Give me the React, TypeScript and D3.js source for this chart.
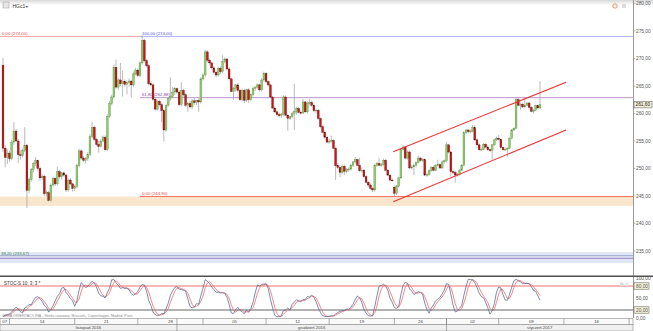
import React from "react";
import * as d3 from "d3";

// HGc1 – 4h bars, [open, high, low, close]
const ohlc: [number, number, number, number][] = [
  [268.8, 270.1, 253.0, 253.7], [253.7, 254.2, 250.2, 252.0], [252.0, 253.5, 250.8, 252.8], [252.8, 253.2, 251.2, 251.8],
  [251.8, 255.2, 251.5, 254.8], [254.8, 258.4, 254.3, 256.8], [256.8, 257.2, 254.8, 255.0], [255.0, 255.4, 251.0, 252.5],
  [252.5, 253.3, 251.6, 252.4], [252.4, 253.6, 252.0, 253.3], [253.3, 257.5, 253.0, 254.2], [254.2, 254.5, 242.8, 246.0],
  [246.0, 248.4, 245.5, 248.0], [248.0, 250.1, 247.6, 249.8], [249.8, 251.2, 249.3, 250.9], [250.9, 252.1, 250.4, 251.4],
  [251.4, 251.6, 249.6, 250.0], [250.0, 250.4, 247.8, 248.3], [248.3, 249.0, 247.9, 248.6], [248.6, 248.9, 245.0, 245.4],
  [245.4, 246.0, 244.9, 245.6], [245.6, 245.9, 244.0, 244.2], [244.2, 247.3, 244.0, 247.0], [247.0, 248.5, 246.7, 248.2],
  [248.2, 248.4, 246.8, 247.2], [247.2, 250.3, 246.9, 249.4], [249.4, 249.7, 248.2, 248.5], [248.5, 249.4, 248.0, 249.2],
  [249.2, 249.5, 248.5, 248.8], [248.8, 249.0, 245.7, 246.1], [246.1, 248.2, 245.8, 247.9], [247.9, 248.3, 246.9, 247.2],
  [247.2, 247.4, 245.8, 246.4], [246.4, 247.0, 245.9, 246.7], [246.7, 250.9, 246.4, 250.5], [250.5, 253.6, 250.2, 253.2],
  [253.2, 253.5, 251.6, 251.9], [251.9, 252.3, 251.2, 251.5], [251.5, 252.1, 250.9, 251.8], [251.8, 253.0, 251.4, 252.6],
  [252.6, 256.3, 252.3, 255.8], [255.8, 258.5, 255.5, 257.5], [257.5, 257.8, 255.0, 255.3], [255.3, 255.6, 254.1, 254.4],
  [254.4, 255.0, 252.9, 254.0], [254.0, 255.3, 253.8, 255.0], [255.0, 256.0, 254.8, 255.7], [255.7, 256.0, 253.1, 253.4],
  [253.4, 259.9, 253.2, 259.5], [259.5, 262.3, 259.2, 261.8], [261.8, 263.4, 261.5, 263.0], [263.0, 268.9, 262.7, 268.4],
  [268.4, 269.8, 264.5, 264.8], [264.8, 266.5, 264.3, 266.1], [266.1, 269.2, 265.0, 265.4], [265.4, 267.8, 263.1, 265.8],
  [265.8, 266.2, 264.9, 265.3], [265.3, 266.0, 263.5, 265.6], [265.6, 266.4, 264.9, 265.9], [265.9, 266.0, 262.9, 265.2],
  [265.2, 267.6, 264.8, 267.2], [267.2, 268.3, 266.9, 267.9], [267.9, 268.2, 266.6, 266.9], [266.9, 269.5, 266.6, 269.2],
  [269.2, 274.2, 268.9, 273.3], [273.3, 273.6, 269.3, 269.6], [269.6, 269.9, 268.4, 268.7], [268.7, 269.0, 265.1, 265.4],
  [265.4, 265.8, 264.9, 265.2], [265.2, 265.5, 262.3, 262.6], [262.6, 262.9, 260.5, 260.8], [260.8, 262.4, 260.5, 262.2],
  [262.2, 262.5, 261.3, 261.6], [261.6, 261.9, 258.4, 260.5], [260.5, 260.8, 254.9, 257.0], [257.0, 261.7, 256.7, 261.5],
  [261.5, 263.0, 261.2, 262.8], [262.8, 266.6, 262.3, 263.1], [263.1, 264.8, 262.8, 263.9], [263.9, 264.8, 263.4, 264.5],
  [264.5, 264.7, 263.6, 263.9], [263.9, 264.2, 261.3, 261.6], [261.6, 265.7, 261.3, 264.2], [264.2, 264.5, 263.1, 263.4],
  [263.4, 263.7, 261.2, 261.5], [261.5, 262.1, 260.3, 261.8], [261.8, 262.3, 260.9, 261.2], [261.2, 262.6, 260.8, 262.3],
  [262.3, 262.8, 261.6, 262.0], [262.0, 262.5, 261.5, 262.4], [262.4, 262.7, 260.3, 262.1], [262.1, 266.6, 261.8, 266.3],
  [266.3, 267.3, 266.0, 267.0], [267.0, 271.6, 266.7, 271.2], [271.2, 271.5, 269.3, 269.7], [269.7, 270.0, 268.9, 269.2],
  [269.2, 269.4, 268.0, 268.3], [268.3, 268.6, 267.2, 267.5], [267.5, 267.8, 266.6, 267.0], [267.0, 268.5, 266.7, 268.2],
  [268.2, 268.6, 267.2, 267.6], [267.6, 270.6, 267.3, 269.4], [269.4, 270.2, 269.1, 269.9], [269.9, 270.1, 267.8, 268.1],
  [268.1, 268.4, 266.0, 266.3], [266.3, 266.5, 263.9, 264.0], [264.0, 264.8, 262.5, 264.6], [264.6, 265.4, 264.0, 265.2],
  [265.2, 265.5, 263.9, 264.2], [264.2, 264.5, 262.3, 262.5], [262.5, 264.5, 262.2, 264.2], [264.2, 264.5, 261.9, 262.4],
  [262.4, 264.5, 262.1, 264.3], [264.3, 264.6, 261.9, 262.5], [262.5, 263.6, 262.2, 263.4], [263.4, 264.9, 263.1, 264.6],
  [264.6, 265.0, 264.1, 264.8], [264.8, 265.5, 264.5, 265.2], [265.2, 265.4, 264.0, 264.3], [264.3, 266.4, 264.0, 266.1],
  [266.1, 267.6, 265.8, 267.3], [267.3, 267.5, 265.5, 265.8], [265.8, 266.0, 264.9, 265.2], [265.2, 265.4, 262.8, 263.0],
  [263.0, 263.2, 260.8, 261.0], [261.0, 261.3, 260.1, 260.3], [260.3, 260.6, 259.5, 259.8], [259.8, 260.2, 259.3, 259.6],
  [259.6, 260.1, 259.2, 259.9], [259.9, 263.3, 259.6, 263.0], [263.0, 263.3, 259.5, 259.7], [259.7, 260.0, 256.9, 259.1],
  [259.1, 259.6, 258.8, 259.4], [259.4, 260.3, 259.1, 260.0], [260.0, 265.4, 257.0, 260.4], [260.4, 261.2, 259.8, 260.9],
  [260.9, 261.2, 260.0, 260.2], [260.2, 260.5, 259.8, 260.1], [260.1, 262.6, 259.9, 262.1], [262.1, 262.3, 260.1, 260.3],
  [260.3, 262.2, 260.0, 261.9], [261.9, 262.6, 261.5, 262.0], [262.0, 262.4, 261.2, 261.5], [261.5, 261.8, 260.2, 260.5],
  [260.5, 260.9, 260.0, 260.6], [260.6, 260.8, 258.8, 259.1], [259.1, 259.3, 257.3, 257.6], [257.6, 257.9, 256.4, 256.6],
  [256.6, 256.9, 255.4, 255.7], [255.7, 256.0, 254.6, 254.8], [254.8, 255.4, 254.5, 255.0], [255.0, 256.0, 254.7, 255.1],
  [255.1, 255.3, 253.5, 253.7], [253.7, 254.0, 247.9, 250.5], [250.5, 251.0, 249.9, 250.2], [250.2, 250.6, 248.4, 249.3],
  [249.3, 250.7, 249.0, 250.4], [250.4, 250.7, 248.8, 249.5], [249.5, 250.1, 249.2, 249.8], [249.8, 250.2, 249.4, 249.9],
  [249.9, 250.9, 249.6, 250.6], [250.6, 251.4, 250.3, 251.2], [251.2, 252.1, 250.9, 251.6], [251.6, 251.8, 250.4, 250.6],
  [250.6, 251.9, 249.4, 249.6], [249.6, 250.2, 249.3, 249.7], [249.7, 249.9, 248.3, 248.5], [248.5, 248.8, 247.3, 247.5],
  [247.5, 247.8, 246.6, 247.0], [247.0, 247.3, 246.2, 246.4], [246.4, 246.6, 245.7, 246.1], [246.1, 250.8, 245.8, 250.6],
  [250.6, 251.2, 250.3, 250.9], [250.9, 251.9, 250.4, 250.6], [250.6, 251.0, 250.3, 250.7], [250.7, 251.8, 250.5, 251.5],
  [251.5, 251.7, 249.5, 249.7], [249.7, 249.9, 248.6, 248.8], [248.8, 249.0, 247.7, 247.9], [247.9, 248.2, 247.6, 247.8],
  [246.6, 246.9, 244.8, 245.5], [245.5, 247.0, 245.2, 246.8], [246.8, 248.5, 246.5, 248.3], [248.3, 253.7, 248.0, 253.4],
  [253.4, 254.2, 253.1, 253.9], [253.9, 254.1, 251.6, 251.9], [251.9, 253.3, 251.6, 253.0], [253.0, 253.2, 249.9, 250.1],
  [250.1, 250.6, 249.8, 250.3], [250.3, 250.9, 248.8, 250.6], [250.6, 251.3, 250.2, 251.1], [251.1, 252.4, 250.9, 251.9],
  [251.9, 252.1, 251.2, 251.5], [251.5, 251.9, 251.2, 251.6], [251.6, 251.8, 248.6, 248.8], [248.8, 249.2, 248.5, 248.9],
  [248.9, 249.8, 248.7, 249.6], [249.6, 250.4, 249.4, 250.2], [250.2, 250.5, 249.5, 249.7], [249.7, 250.8, 249.5, 250.6],
  [250.6, 251.6, 250.3, 250.7], [250.7, 250.9, 249.9, 250.1], [250.1, 251.5, 249.9, 251.2], [251.2, 251.6, 250.9, 251.4],
  [251.4, 254.8, 251.1, 254.3], [254.3, 254.5, 252.7, 253.0], [253.0, 253.2, 248.5, 249.4], [249.4, 249.8, 249.0, 249.3],
  [249.3, 249.6, 247.4, 248.8], [248.8, 249.2, 248.5, 248.9], [248.9, 249.9, 248.7, 249.7], [249.7, 250.8, 249.5, 250.6],
  [250.6, 256.8, 250.4, 256.5], [256.5, 257.2, 256.2, 257.0], [257.0, 257.2, 256.4, 256.7], [256.7, 257.1, 256.4, 256.8],
  [256.8, 257.9, 256.6, 257.4], [257.4, 257.9, 255.0, 255.2], [255.2, 255.5, 254.1, 254.3], [254.3, 254.6, 253.2, 253.4],
  [253.4, 253.8, 253.1, 253.5], [253.5, 254.6, 253.3, 254.4], [254.4, 254.6, 253.7, 253.9], [253.9, 254.2, 253.2, 253.4],
  [253.4, 253.6, 253.0, 253.3], [253.3, 254.5, 251.5, 254.3], [254.3, 255.4, 254.1, 255.2], [255.2, 255.8, 255.0, 255.5],
  [255.5, 256.1, 255.1, 255.3], [255.3, 255.5, 253.6, 253.8], [253.8, 254.0, 253.2, 253.4], [253.4, 253.8, 253.2, 253.5],
  [253.5, 253.9, 252.1, 253.7], [253.7, 255.7, 253.5, 255.5], [255.5, 257.2, 255.3, 257.0], [257.0, 257.5, 256.8, 257.3],
  [257.3, 262.8, 257.1, 262.5], [262.5, 263.0, 261.3, 261.5], [261.5, 262.0, 260.6, 261.7], [261.7, 261.9, 261.0, 261.2],
  [261.2, 263.0, 261.0, 261.5], [261.5, 262.1, 261.3, 261.9], [261.9, 262.1, 260.9, 261.1], [261.1, 261.3, 260.2, 260.4],
  [260.4, 260.8, 260.0, 260.6], [260.6, 261.6, 260.4, 261.4], [261.4, 261.6, 260.9, 261.0], [261.0, 265.9, 260.8, 261.6],
];

const weekLabels = ["07", "14", "21", "28", "05", "12", "19", "26", "02", "09", "16"];
const weekStartBars = [-27, 3, 33, 62, 92, 121, 150, 180, 204, 228, 258, 288];
const monthLabels = ["listopad 2016", "grudzień 2016", "styczeń 2017"];
const monthStartBars = [-80, 80, 204, 400];
const priceTicks = [280, 275, 270, 265, 260, 255, 250, 245, 240, 235];
const stochTicks = [100, 80, 50, 20, 0];
const stochBoxed = [80, 20];

// drawing tools
const fibHigh = 274.0;
const fib618 = 262.88;
const fibLow = 244.9;
const supportBandLow = 243.2;
const lowerBand = [234.8, 232.8];
const lowerBandLines = [234.15, 233.67];
const fibStartBar = 63;
const channelUpper: [number, number][] = [[179.5, 253.05], [259, 265.7]];
const channelLower: [number, number][] = [[179.5, 243.96], [259, 257.0]];

const fmt = (v: number) => d3.format(".2f")(v).replace(".", ",");

export default function App() {
  const W = 653, H = 331;
  const plotR = 633;
  const mainBottom = 275;
  const n = ohlc.length;
  const x = d3.scaleLinear().domain([0, n - 1]).range([3, 540]);
  const y = d3.scaleLinear().domain([245, 275]).range([196, 31]);
  const ys = d3.scaleLinear().domain([0, 100]).range([318, 278]);
  const bw = 1.8;

  // Slow stochastic 10;3;3
  const fastK = ohlc.map((d, i) => {
    const w = ohlc.slice(Math.max(0, i - 9), i + 1);
    const hh = d3.max(w, (b) => b[1])!;
    const ll = d3.min(w, (b) => b[2])!;
    return hh === ll ? 50 : (100 * (d[3] - ll)) / (hh - ll);
  });
  const sma = (arr: number[], k: number) =>
    arr.map((_, i) => d3.mean(arr.slice(Math.max(0, i - k + 1), i + 1))!);
  const slowK = sma(fastK, 3);
  const slowD = sma(slowK, 3);
  const sLine = d3.line<number>().x((_, i) => x(i)).y((v) => ys(v));

  const font = "'Liberation Sans', Arial, sans-serif";
  const lastClose = ohlc[n - 1][3];

  const clampX = (v: number) => Math.max(0, Math.min(plotR, v));

  return (
    <svg width={W} height={H} style={{ position: "fixed", left: 0, top: 0, background: "#fff" }} fontFamily={font}>
      <defs>
        <clipPath id="mainClip"><rect x={0} y={0} width={plotR} height={mainBottom} /></clipPath>
        <clipPath id="stClip"><rect x={0} y={277} width={plotR} height={41} /></clipPath>
        <linearGradient id="hdr" x1="0" y1="0" x2="0" y2="1">
          <stop offset="0" stopColor="#d8d8d8" />
          <stop offset="1" stopColor="#ffffff" />
        </linearGradient>
      </defs>
      <rect x={0} y={0} width={W} height={H} fill="#fff" />
      <rect x={0} y={0} width={W} height={5} fill="url(#hdr)" />

      <g clipPath="url(#mainClip)">
        {/* support band */}
        <rect x={0} y={y(fibLow)} width={plotR} height={y(supportBandLow) - y(fibLow)} fill="#fae6cc" />
        <line x1={x(fibStartBar)} x2={plotR} y1={y(fibLow)} y2={y(fibLow)} stroke="#f07060" strokeWidth={1} />
        {/* lower band */}
        <rect x={0} y={y(lowerBand[0])} width={plotR} height={y(lowerBand[1]) - y(lowerBand[0])} fill="#e1e5f4" />
        <line x1={0} x2={plotR} y1={y(lowerBandLines[0])} y2={y(lowerBandLines[0])} stroke="#8a9cc8" strokeWidth={0.8} />
        <line x1={0} x2={plotR} y1={y(lowerBandLines[1])} y2={y(lowerBandLines[1])} stroke="#8a6cb0" strokeWidth={0.8} />
        {/* fib lines */}
        <line x1={0} x2={x(fibStartBar)} y1={y(fibHigh)} y2={y(fibHigh)} stroke="#f6a8a8" strokeWidth={1} />
        <line x1={x(fibStartBar)} x2={plotR} y1={y(fibHigh)} y2={y(fibHigh)} stroke="#b4b4f8" strokeWidth={1} />
        <line x1={x(fibStartBar)} x2={plotR} y1={y(fib618)} y2={y(fib618)} stroke="#b98ac8" strokeWidth={0.9} />

        {/* candles */}
        {ohlc.map((d, i) => {
          const [o, h, l, c] = d;
          const up = c >= o;
          const top = y(Math.max(o, c));
          const bot = y(Math.min(o, c));
          return (
            <g key={i}>
              <line x1={x(i)} x2={x(i)} y1={y(h)} y2={y(l)} stroke="#9c9c9c" strokeWidth={0.7} />
              <rect x={x(i) - bw / 2} y={top} width={bw} height={Math.max(0.8, bot - top)}
                fill={up ? "#8cce6a" : "#d81010"} stroke={up ? "#5d8c45" : "#4a0a0a"} strokeWidth={0.35} />
            </g>
          );
        })}

        {/* channel */}
        <line x1={x(channelUpper[0][0])} y1={y(channelUpper[0][1])} x2={x(channelUpper[1][0])} y2={y(channelUpper[1][1])}
          stroke="#f03030" strokeWidth={1.1} />
        <line x1={x(channelLower[0][0])} y1={y(channelLower[0][1])} x2={x(channelLower[1][0])} y2={y(channelLower[1][1])}
          stroke="#f03030" strokeWidth={1.1} />

        {/* fib labels */}
        <text x={2} y={y(fibHigh) - 1.2} fontSize={4.3} fill="#e04848">{`0,00 (${fmt(fibHigh)})`}</text>
        <text x={x(fibStartBar) + 2} y={y(fibHigh) - 1.2} fontSize={4.3} fill="#5050e0">{`100,00 (${fmt(fibHigh)})`}</text>
        <text x={x(fibStartBar) + 2} y={y(fib618) - 1.2} fontSize={4.3} fill="#9040a8">{`61,80 (${fmt(fib618)})`}</text>
        <text x={x(fibStartBar) + 2} y={y(fibLow) - 1.2} fontSize={4.3} fill="#e04848">{`0,00 (${fmt(fibLow)})`}</text>
        <text x={1} y={y(lowerBandLines[0]) - 0.6} fontSize={4.3} fill="#3a8a5a">{`38,20 (${fmt(lowerBandLines[1])})`}</text>
      </g>

      {/* header */}
      <rect x={3} y={2} width={6} height={6} fill="#e6e6e6" stroke="#999" strokeWidth={0.5} />
      <text x={12.5} y={7.5} fontSize={5} fill="#333">HGc1</text>
      <text x={25} y={7.5} fontSize={3.5} fill="#333">▼</text>
      <circle cx={615} cy={6} r={2.2} fill="#f4f4f4" stroke="#e07030" strokeWidth={0.7} />
      <rect x={622} y={4} width={4} height={4} fill="#dcdcdc" />

      {/* right axis */}
      <line x1={plotR + 0.5} x2={plotR + 0.5} y1={0} y2={318} stroke="#9a9a9a" strokeWidth={1} />
      {priceTicks.map((p) => (
        <g key={p}>
          <line x1={plotR} x2={plotR + 2.5} y1={y(p)} y2={y(p)} stroke="#888" strokeWidth={0.5} />
          <text x={plotR + 3} y={y(p)} dy="0.35em" fontSize={4.8} fill="#555">{fmt(p)}</text>
        </g>
      ))}
      <rect x={plotR + 1} y={y(lastClose) - 3.2} width={18} height={6.4} fill="#f5f1d8" stroke="#555" strokeWidth={0.5} />
      <text x={plotR + 2.5} y={y(lastClose)} dy="0.35em" fontSize={4.8} fill="#222">{fmt(lastClose)}</text>

      {/* separator */}
      <line x1={0} x2={W} y1={276.3} y2={276.3} stroke="#505050" strokeWidth={1.4} />

      {/* stochastic pane */}
      <line x1={0} x2={plotR} y1={ys(80)} y2={ys(80)} stroke="#f06060" strokeWidth={0.9} />
      <line x1={0} x2={plotR} y1={ys(20)} y2={ys(20)} stroke="#555" strokeWidth={0.9} />
      <g clipPath="url(#stClip)">
        <path d={sLine(slowD) ?? ""} fill="none" stroke="#f26a6a" strokeWidth={0.8} />
        <path d={sLine(slowK) ?? ""} fill="none" stroke="#5c6f95" strokeWidth={0.8} />
      </g>
      <text x={4} y={284.5} fontSize={4.5} fill="#333">STOC-S 10; 3; 3 *</text>
      <text x={2} y={316.8} fontSize={3.7} fill="#8a8a8a">CENA ORIENTACYJNA - Strefa czasowa: Brussels, Copenhagen, Madrid, Paris</text>
      <rect x={620} y={282.5} width={3.5} height={3.5} fill="#dcdcdc" />
      <rect x={625} y={282.5} width={3.5} height={3.5} fill="#e8e8e8" />
      {stochTicks.map((t) => {
        const boxed = stochBoxed.includes(t);
        return (
          <g key={t}>
            {boxed && <rect x={plotR + 1} y={ys(t) - 3.2} width={15} height={6.4} fill="#f5f1d8" stroke="#555" strokeWidth={0.5} />}
            <text x={plotR + 3} y={ys(t)} dy="0.35em" fontSize={4.8} fill="#555">{fmt(t)}</text>
          </g>
        );
      })}

      {/* x axis rows */}
      <rect x={0} y={318.5} width={plotR} height={6} fill="#fafafa" stroke="#8a8a8a" strokeWidth={0.6} />
      <rect x={0} y={324.5} width={plotR} height={6.5} fill="#f0f0f0" stroke="#8a8a8a" strokeWidth={0.6} />
      {weekLabels.map((lab, k) => {
        const x0 = x(weekStartBars[k]);
        const x1 = x(weekStartBars[k + 1]);
        const cx = (clampX(x0) + clampX(x1)) / 2;
        return (
          <g key={lab + k}>
            {x1 < plotR && <line x1={x1} x2={x1} y1={318.5} y2={324.5} stroke="#777" strokeWidth={0.6} />}
            <text x={cx} y={322.9} fontSize={4.3} fill="#444" textAnchor="middle">{lab}</text>
          </g>
        );
      })}
      {monthLabels.map((lab, k) => {
        const x0 = x(monthStartBars[k]);
        const x1 = x(monthStartBars[k + 1]);
        const cx = (clampX(x0) + clampX(x1)) / 2;
        return (
          <g key={lab}>
            {x1 < plotR && <line x1={x1} x2={x1} y1={318.5} y2={331} stroke="#777" strokeWidth={0.6} />}
            <text x={cx} y={329.4} fontSize={4.3} fill="#444" textAnchor="middle">{lab}</text>
          </g>
        );
      })}
    </svg>
  );
}
